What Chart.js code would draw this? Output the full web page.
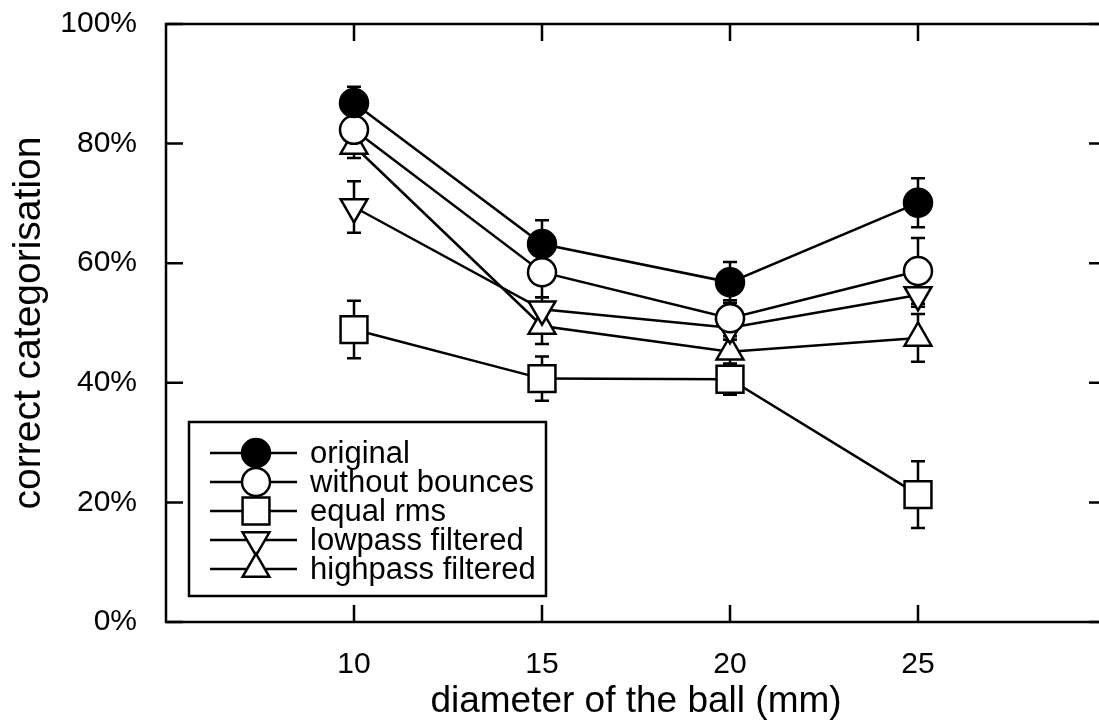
<!DOCTYPE html>
<html>
<head>
<meta charset="utf-8">
<script src="https://cdn.jsdelivr.net/npm/chart.js@4/dist/chart.umd.min.js"></script>
<style>
  html, body { margin: 0; padding: 0; background: #fff; }
  #wrap { width: 1099px; height: 727px; overflow: hidden; position: relative; }
  #chart { display: block; }
</style>
</head>
<body>
<div id="wrap"><canvas id="chart" width="1130" height="727"></canvas></div>
<script>
// data
const diameters = [10, 15, 20, 25];
const xTicks = [10, 15, 20, 25];
const yTicks = [0, 20, 40, 60, 80, 100];

const seriesNames = ['original', 'without bounces', 'equal rms', 'lowpass filtered', 'highpass filtered'];

const original = [86.8, 63.2, 56.8, 70.1];
const originalErr = [2.7, 4.0, 3.4, 4.1];

const withoutBounces = [82.3, 58.5, 50.8, 58.7];
const withoutBouncesErr = [3.0, 4.2, 3.0, 5.5];

const equalRms = [48.9, 40.7, 40.6, 21.3];
const equalRmsErr = [4.8, 3.7, 2.6, 5.6];

const lowpass = [69.4, 52.3, 49.2, 54.7];
const lowpassErr = [4.3, 2.0, 2.0, 2.0];

const highpass = [79.6, 49.5, 45.2, 47.5];
const highpassErr = [2.0, 3.0, 2.0, 4.0];

const FONT = 'Liberation Sans, Arial, Helvetica, sans-serif';
Chart.defaults.font.family = FONT;
Chart.defaults.color = '#000';

const LW = 2.5;

// marker look per series
const markers = [
  { style: 'circle', radius: 14, rotation: 0, fill: '#000' },
  { style: 'circle', radius: 14, rotation: 0, fill: '#fff' },
  { style: 'rect', radius: 19, rotation: 0, fill: '#fff' },
  { style: 'triangle', radius: 15.5, rotation: 180, fill: '#fff' },
  { style: 'triangle', radius: 15.5, rotation: 0, fill: '#fff' }
];

const values = [original, withoutBounces, equalRms, lowpass, highpass];
const errors = [originalErr, withoutBouncesErr, equalRmsErr, lowpassErr, highpassErr];

function toPoints(arr) {
  return arr.map((v, i) => ({ x: diameters[i], y: v }));
}

const datasets = values.map((arr, k) => ({
  label: seriesNames[k],
  data: toPoints(arr),
  errors: errors[k],
  borderColor: '#000',
  borderWidth: LW,
  tension: 0,
  pointStyle: markers[k].style,
  pointRadius: markers[k].radius,
  pointHoverRadius: markers[k].radius,
  pointRotation: markers[k].rotation,
  pointBackgroundColor: markers[k].fill,
  pointBorderColor: '#000',
  pointBorderWidth: LW
}));

// error bars, frame, inward ticks, legend box
const gnuplotLook = {
  id: 'gnuplotLook',
  beforeDatasetsDraw(chart) {
    const ctx = chart.ctx;
    const xs = chart.scales.x, ys = chart.scales.y;
    ctx.save();
    ctx.strokeStyle = '#000';
    ctx.lineWidth = LW;
    chart.data.datasets.forEach(ds => {
      ds.data.forEach((p, i) => {
        const e = ds.errors[i];
        const px = xs.getPixelForValue(p.x);
        const top = ys.getPixelForValue(p.y + e);
        const bot = ys.getPixelForValue(p.y - e);
        ctx.beginPath();
        ctx.moveTo(px, top); ctx.lineTo(px, bot);
        ctx.moveTo(px - 7, top); ctx.lineTo(px + 7, top);
        ctx.moveTo(px - 7, bot); ctx.lineTo(px + 7, bot);
        ctx.stroke();
      });
    });
    ctx.restore();
  },
  afterDraw(chart) {
    const ctx = chart.ctx;
    const a = chart.chartArea;
    const xs = chart.scales.x, ys = chart.scales.y;
    const tl = 17;
    ctx.save();
    ctx.strokeStyle = '#000';
    ctx.lineWidth = 2.5;
    ctx.strokeRect(a.left, a.top, a.right - a.left, a.bottom - a.top);

    ctx.lineWidth = LW;
    ctx.beginPath();
    xTicks.forEach(v => {
      const px = xs.getPixelForValue(v);
      ctx.moveTo(px, a.bottom); ctx.lineTo(px, a.bottom - tl);
      ctx.moveTo(px, a.top); ctx.lineTo(px, a.top + tl);
    });
    yTicks.forEach(v => {
      const py = ys.getPixelForValue(v);
      ctx.moveTo(a.left, py); ctx.lineTo(a.left + tl, py);
      ctx.moveTo(a.right, py); ctx.lineTo(a.right - tl, py);
    });
    ctx.stroke();

    // legend
    const bx = 189, by = 422, bw = 357, bh = 174;
    ctx.fillStyle = '#fff';
    ctx.fillRect(bx, by, bw, bh);
    ctx.lineWidth = LW;
    ctx.strokeRect(bx, by, bw, bh);
    ctx.font = '31px ' + FONT;
    ctx.textBaseline = 'middle';
    ctx.textAlign = 'left';
    seriesNames.forEach((name, k) => {
      const y = 453 + k * 29;
      ctx.strokeStyle = '#000';
      ctx.lineWidth = LW;
      ctx.beginPath();
      ctx.moveTo(210, y); ctx.lineTo(297, y);
      ctx.stroke();
      ctx.fillStyle = markers[k].fill;
      Chart.helpers.drawPoint(ctx, {
        pointStyle: markers[k].style,
        radius: markers[k].radius,
        rotation: markers[k].rotation,
        borderWidth: LW
      }, 256, y);
      ctx.fillStyle = '#000';
      ctx.fillText(name, 310, y + 1);
    });
    ctx.restore();
  }
};

new Chart(document.getElementById('chart'), {
  type: 'line',
  data: { datasets },
  options: {
    responsive: false,
    animation: false,
    events: [],
    layout: { padding: { top: 24, right: 24, left: 0, bottom: 0 } },
    plugins: { legend: { display: false }, tooltip: { enabled: false } },
    scales: {
      x: {
        type: 'linear',
        min: 5,
        max: 30,
        afterBuildTicks: s => { s.ticks = xTicks.map(v => ({ value: v })); },
        afterFit: s => { s.height = 105; s.paddingLeft = 0; s.paddingRight = 0; },
        grid: { display: false },
        border: { display: false },
        ticks: { font: { size: 30 }, padding: 17, maxRotation: 0 },
        title: {
          display: true,
          text: 'diameter of the ball (mm)',
          font: { size: 37 },
          padding: { top: 0, bottom: 3 }
        }
      },
      y: {
        min: 0,
        max: 100,
        afterBuildTicks: s => { s.ticks = yTicks.map(v => ({ value: v })); },
        afterFit: s => { s.width = 166; s.paddingTop = 0; s.paddingBottom = 0; },
        grid: { display: false },
        border: { display: false },
        ticks: { font: { size: 30 }, padding: 21, callback: v => v + '%' },
        title: {
          display: true,
          text: 'correct categorisation',
          font: { size: 39 },
          padding: { top: 6, bottom: 0 }
        }
      }
    }
  },
  plugins: [gnuplotLook]
});
</script>
</body>
</html>
